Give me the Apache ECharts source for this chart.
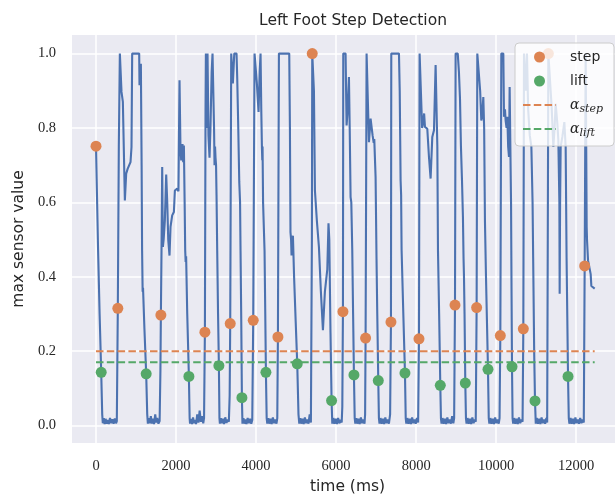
<!DOCTYPE html>
<html>
<head>
<meta charset="utf-8">
<title>Left Foot Step Detection</title>
<script src="https://cdn.jsdelivr.net/npm/echarts@6/dist/echarts.min.js"></script>
<style>
html, body { margin: 0; padding: 0; background: #ffffff; }
#chart { width: 615px; height: 498px; }
</style>
</head>
<body>
<div id="chart"></div>
<script>
// [time (ms), max sensor value]
var sensorTrace = [
	[0,0.75],[50,0.48],[90,0.30],[130,0.143],[155,0.03],[170,0.006],
	[195,0.02],[215,0.004],[240,0.018],[265,0.005],[290,0.015],[320,0.004],[350,0.02],[380,0.006],[410,0.017],[440,0.005],[470,0.019],[500,0.006],[520,0.012],
	[545,0.315],[570,0.75],[596,1.0],
	[620,1.0],[637,0.897],[671,0.87],[721,0.605],[754,0.677],[790,0.69],[821,0.695],[862,0.708],[887,0.749],[904,1.0],[1079,1.0],[1087,0.915],[1110,0.95],[1121,0.973],[1140,0.70],[1152,0.47],[1158,0.42],[1165,0.36],[1175,0.37],[1210,0.26],[1254,0.139],[1280,0.03],[1296,0.005],
	[1320,0.02],[1345,0.006],[1370,0.025],[1395,0.005],[1420,0.018],[1450,0.004],[1480,0.03],[1505,0.008],[1530,0.02],[1560,0.005],[1590,0.012],
	[1610,0.15],[1621,0.297],[1637,0.471],
	[1654,0.695],[1671,0.48],[1690,0.50],[1720,0.55],[1754,0.675],[1780,0.60],[1805,0.50],[1837,0.457],[1862,0.534],[1904,0.565],[1946,0.574],[1971,0.632],[2029,0.637],[2060,0.63],[2087,0.928],[2110,0.75],[2129,0.713],[2162,0.757],[2179,0.708],[2196,0.753],[2215,0.60],[2229,0.471],[2240,0.44],[2252,0.455],[2280,0.30],[2321,0.132],[2340,0.02],[2350,0.005],
	[2375,0.018],[2400,0.004],[2425,0.022],[2450,0.006],[2475,0.015],[2500,0.004],[2530,0.03],[2560,0.008],[2590,0.04],[2620,0.01],[2650,0.025],[2680,0.006],[2700,0.02],
	[2721,0.251],[2737,0.85],
	[2746,1.0],[2765,0.80],[2787,1.0],[2810,0.78],[2837,0.72],[2860,0.80],[2890,0.95],[2912,1.0],[2937,1.0],[2950,0.80],[2962,0.70],[2975,0.75],[2987,0.72],[3000,0.70],[3012,0.62],[3029,0.47],[3050,0.30],[3071,0.161],[3085,0.02],[3096,0.005],
	[3120,0.02],[3145,0.006],[3170,0.018],[3200,0.004],[3230,0.022],[3260,0.007],[3290,0.016],[3320,0.01],
	[3340,0.08],[3354,0.274],[3379,1.0],
	[3400,1.0],[3420,0.92],[3437,0.915],[3455,1.0],[3512,1.0],[3530,0.93],[3555,0.80],[3580,0.655],[3600,0.60],[3612,0.47],[3630,0.28],[3646,0.075],[3660,0.005],
	[3685,0.02],[3710,0.005],[3735,0.016],[3760,0.004],[3790,0.02],[3820,0.006],[3850,0.018],[3880,0.005],[3905,0.015],
	[3929,0.283],[3962,1.0],
	[3996,1.0],[4020,0.92],[4062,0.843],[4090,0.95],[4112,1.0],[4130,0.85],[4146,0.749],[4155,0.713],[4162,0.75],[4175,0.60],[4212,0.47],[4230,0.30],[4246,0.143],[4265,0.02],[4280,0.005],
	[4305,0.02],[4330,0.005],[4360,0.018],[4390,0.004],[4420,0.022],[4450,0.006],[4480,0.016],[4510,0.005],[4530,0.02],
	[4546,0.238],[4571,1.0],
	[4829,1.0],[4846,0.80],[4860,0.52],[4875,0.50],[4887,0.457],[4900,0.50],[4921,0.51],[4950,0.40],[4990,0.28],[5029,0.166],[5060,0.03],[5080,0.005],
	[5105,0.02],[5130,0.005],[5160,0.018],[5190,0.004],[5220,0.022],[5250,0.006],[5280,0.016],[5310,0.005],[5340,0.03],[5370,0.008],[5385,0.01],
	[5395,0.5],[5404,1.0],
	[5430,1.0],[5446,0.90],[5471,0.632],[5520,0.55],[5571,0.48],[5620,0.36],[5671,0.256],[5720,0.36],[5780,0.42],[5810,0.544],[5830,0.50],[5860,0.25],[5887,0.067],[5905,0.005],
	[5930,0.02],[5960,0.005],[5990,0.018],[6020,0.004],[6050,0.02],[6080,0.006],[6110,0.015],[6140,0.008],[6155,0.05],
	[6171,0.306],[6179,1.0],
	[6237,1.0],[6262,0.807],[6290,0.85],[6321,0.937],[6340,0.80],[6362,0.614],[6380,0.60],[6404,0.471],[6425,0.30],[6446,0.136],[6465,0.02],[6480,0.005],
	[6505,0.02],[6530,0.005],[6560,0.018],[6590,0.004],[6620,0.022],[6650,0.006],[6680,0.016],[6710,0.005],[6725,0.03],
	[6737,0.235],[6762,1.0],
	[6796,1.0],[6821,0.762],[6862,0.825],[6890,0.82],[6912,0.78],[6940,0.76],[6954,0.77],[6987,0.668],[7010,0.45],[7029,0.30],[7054,0.121],[7070,0.02],[7085,0.005],
	[7110,0.02],[7140,0.005],[7170,0.018],[7200,0.004],[7230,0.022],[7260,0.006],[7290,0.016],[7320,0.005],[7350,0.03],
	[7371,0.278],[7379,1.0],
	[7571,1.0],[7590,0.90],[7612,0.659],[7625,0.62],[7637,0.471],[7680,0.30],[7721,0.141],[7740,0.02],[7755,0.005],
	[7780,0.02],[7810,0.005],[7840,0.018],[7870,0.004],[7900,0.022],[7930,0.006],[7960,0.016],[7990,0.005],[8020,0.02],[8050,0.008],
	[8071,0.233],[8087,1.0],
	[8112,1.0],[8150,0.80],[8171,0.812],[8200,0.839],[8221,0.803],[8250,0.80],[8279,0.798],[8321,0.722],[8362,0.664],[8404,0.776],[8446,0.794],[8487,0.969],[8512,0.964],[8530,0.75],[8546,0.471],[8575,0.30],[8604,0.108],[8620,0.02],[8635,0.005],
	[8660,0.02],[8690,0.005],[8720,0.018],[8750,0.004],[8780,0.022],[8810,0.006],[8840,0.016],[8870,0.005],[8900,0.025],[8930,0.006],[8950,0.02],
	[8971,0.324],[8987,1.0],
	[9040,1.0],[9070,0.95],[9096,0.88],[9120,0.75],[9146,0.66],[9170,0.56],[9185,0.45],[9196,0.40],[9210,0.30],[9229,0.114],[9245,0.02],[9260,0.005],
	[9285,0.02],[9315,0.005],[9345,0.018],[9375,0.004],[9405,0.022],[9435,0.006],[9465,0.016],[9490,0.01],
	[9512,0.317],[9529,1.0],
	[9570,1.0],[9600,0.90],[9629,0.82],[9650,0.83],[9679,0.883],[9700,0.80],[9720,0.55],[9746,0.40],[9770,0.28],[9796,0.151],[9815,0.02],[9830,0.005],
	[9855,0.02],[9885,0.005],[9915,0.018],[9945,0.004],[9975,0.022],[10005,0.006],[10035,0.016],[10065,0.005],[10085,0.02],
	[10104,0.242],[10129,1.0],
	[10179,1.0],[10196,0.83],[10220,0.85],[10237,0.82],[10260,0.80],[10279,0.83],[10300,0.75],[10321,0.722],[10337,0.91],[10362,0.915],[10372,0.60],[10385,0.35],[10396,0.158],[10410,0.02],[10425,0.005],
	[10450,0.02],[10480,0.005],[10510,0.018],[10540,0.004],[10570,0.022],[10600,0.006],[10630,0.016],[10660,0.01],
	[10679,0.26],[10696,1.0],
	[10720,1.0],[10740,0.90],[10770,1.0],[10800,0.85],[10840,0.78],[10880,0.75],[10910,0.60],[10925,0.45],[10950,0.20],[10971,0.066],[10990,0.005],
	[11015,0.02],[11045,0.005],[11075,0.018],[11105,0.004],[11135,0.022],[11165,0.006],[11195,0.016],[11225,0.005],[11255,0.02],[11275,0.008],
	[11290,0.5],[11304,1.0],
	[11346,1.0],[11387,0.856],[11429,0.749],[11460,0.80],[11487,0.865],[11529,0.812],[11554,0.767],[11580,0.60],[11587,0.354],[11598,0.60],[11612,0.749],[11654,0.776],[11704,0.816],[11737,0.749],[11760,0.45],[11796,0.132],[11815,0.02],[11830,0.005],
	[11860,0.02],[11890,0.005],[11920,0.018],[11950,0.004],[11980,0.022],[12010,0.006],[12040,0.016],[12070,0.005],[12100,0.02],[12130,0.006],[12160,0.016],[12190,0.008],
	[12212,0.429],[12237,1.0],
	[12255,1.0],[12262,0.534],[12271,0.498],[12296,0.444],[12337,0.444],[12362,0.407],[12379,0.375],[12421,0.372],[12462,0.368]
];

var stepTimes  = [0, 545, 1621, 2721, 3354, 3929, 4546, 5404, 6171, 6737, 7371, 8071, 8971, 9512, 10104, 10679, 11304, 12212];
var stepValues = [0.751, 0.315, 0.297, 0.251, 0.274, 0.283, 0.238, 1.0, 0.306, 0.235, 0.278, 0.233, 0.324, 0.317, 0.242, 0.26, 1.0, 0.429];
var liftTimes  = [130, 1254, 2321, 3071, 3646, 4246, 5029, 5887, 6446, 7054, 7721, 8604, 9229, 9796, 10396, 10971, 11796];
var liftValues = [0.143, 0.139, 0.132, 0.161, 0.075, 0.143, 0.166, 0.067, 0.136, 0.121, 0.141, 0.108, 0.114, 0.151, 0.158, 0.066, 0.132];

var alphaStep = 0.2;
var alphaLift = 0.17;

var xTicks = [0, 2000, 4000, 6000, 8000, 10000, 12000];
var yTicks = [0, 0.2, 0.4, 0.6, 0.8, 1.0];

var textColor = '#262626';

function zip(xs, ys) {
	return xs.map(function(x, i) { return [x, ys[i]]; });
}

var tStart = sensorTrace[0][0];
var tEnd   = sensorTrace[sensorTrace.length - 1][0];

var chart = echarts.init(document.getElementById('chart'), null, { renderer: 'canvas' });

var option = {
	animation: false,
	backgroundColor: '#ffffff',
	title: {
		text: 'Left Foot Step Detection',
		left: 348,
		top: 8,
		textAlign: 'center',
		textStyle: { color: textColor, fontFamily: 'DejaVu Sans', fontSize: 15.5, fontWeight: 'normal' }
	},
	grid: {
		left: 72, right: 0, top: 35, bottom: 55,
		containLabel: false,
		outerBoundsMode: 'none',
		show: true,
		backgroundColor: '#EAEAF2',
		borderWidth: 0
	},
	legend: {
		orient: 'vertical',
		left: 515,
		top: 43,
		z: 10,
		padding: [4, 4, 7, 7],
		itemGap: 4,
		itemWidth: 33,
		itemHeight: 11,
		backgroundColor: 'rgba(255,255,255,0.8)',
		borderColor: '#cccccc',
		borderWidth: 1,
		borderRadius: 4,
		data: [
			{ name: 'step' },
			{ name: 'lift' },
			{ name: 'alpha_step', itemStyle: { opacity: 0 } },
			{ name: 'alpha_lift', itemStyle: { opacity: 0 } }
		],
		formatter: function(name) {
			if (name === 'alpha_step') return '{a|α}{s|step}';
			if (name === 'alpha_lift') return '{a|α}{s|lift}';
			return name;
		},
		textStyle: {
			color: textColor,
			fontFamily: 'DejaVu Sans',
			fontSize: 14,
			lineHeight: 20,
			width: 40,
			padding: [0, 0, 0, 9],
			rich: {
				a: { fontFamily: 'DejaVu Serif', fontStyle: 'italic', fontSize: 14, lineHeight: 20, color: textColor },
				s: { fontFamily: 'DejaVu Serif', fontStyle: 'italic', fontSize: 11, lineHeight: 20, verticalAlign: 'bottom', color: textColor }
			}
		}
	},
	xAxis: {
		type: 'value',
		min: -600,
		max: 12970,
		name: 'time (ms)',
		nameLocation: 'middle',
		nameGap: 36,
		nameTextStyle: { color: textColor, fontFamily: 'DejaVu Sans', fontSize: 15.5, padding: [0, 0, 0, 8] },
		axisLine: { show: false },
		axisTick: { show: false, customValues: xTicks },
		axisLabel: {
			customValues: xTicks,
			margin: 16,
			color: textColor,
			fontFamily: 'Liberation Serif',
			fontSize: 14.5,
			formatter: function(v) { return String(v); }
		},
		splitLine: { show: true, lineStyle: { color: '#ffffff', width: 1.5 } }
	},
	yAxis: {
		type: 'value',
		min: -0.047,
		max: 1.05,
		name: 'max sensor value',
		nameLocation: 'middle',
		nameGap: 37,
		nameTextStyle: { color: textColor, fontFamily: 'DejaVu Sans', fontSize: 15.5 },
		axisLine: { show: false },
		axisTick: { show: false, customValues: yTicks },
		axisLabel: {
			customValues: yTicks,
			margin: 16,
			color: textColor,
			fontFamily: 'Liberation Serif',
			fontSize: 14.5,
			formatter: function(v) { return v.toFixed(1); }
		},
		splitLine: { show: true, lineStyle: { color: '#ffffff', width: 1.5 } }
	},
	series: [
		{
			name: 'sensor',
			type: 'line',
			data: sensorTrace,
			showSymbol: false,
			symbol: 'none',
			z: 2,
			lineStyle: { color: '#4C72B0', width: 2.1 }
		},
		{
			name: 'alpha_step',
			type: 'line',
			data: [[tStart, alphaStep], [tEnd, alphaStep]],
			symbol: 'none',
			z: 2,
			itemStyle: { color: '#DD8452' },
			lineStyle: { color: '#DD8452', width: 2, type: [7.5, 3.3] }
		},
		{
			name: 'alpha_lift',
			type: 'line',
			data: [[tStart, alphaLift], [tEnd, alphaLift]],
			symbol: 'none',
			z: 2,
			itemStyle: { color: '#55A868' },
			lineStyle: { color: '#55A868', width: 2, type: [7.5, 3.3] }
		},
		{
			name: 'step',
			type: 'scatter',
			data: zip(stepTimes, stepValues),
			symbol: 'circle',
			symbolSize: 11,
			z: 3,
			itemStyle: { color: '#DD8452', opacity: 1 }
		},
		{
			name: 'lift',
			type: 'scatter',
			data: zip(liftTimes, liftValues),
			symbol: 'circle',
			symbolSize: 11,
			z: 3,
			itemStyle: { color: '#55A868', opacity: 1 }
		}
	]
};

chart.setOption(option);
</script>
</body>
</html>
